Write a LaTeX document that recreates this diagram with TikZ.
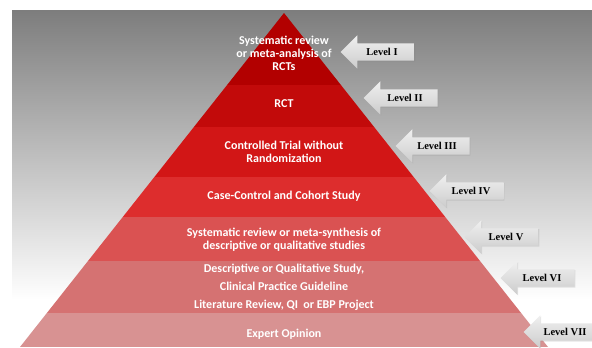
\documentclass[tikz,border=0pt]{standalone}
\usepackage{fontspec}
\setmainfont{Carlito}
\newfontfamily\levelfont{Liberation Serif}
\usetikzlibrary{shapes.arrows,shadows}
\definecolor{bgtop}{RGB}{125,125,125}
\definecolor{bandI}{RGB}{178,0,0}
\definecolor{bandII}{RGB}{194,10,10}
\definecolor{bandIII}{RGB}{210,22,22}
\definecolor{bandIV}{RGB}{221,45,45}
\definecolor{bandV}{RGB}{218,82,82}
\definecolor{bandVI}{RGB}{213,114,114}
\definecolor{bandVII}{RGB}{216,146,146}
\pgfdeclareverticalshading{backfade}{100bp}{color(0bp)=(white); color(32bp)=(white); color(75bp)=(bgtop); color(100bp)=(bgtop)}
\begin{document}
\begin{tikzpicture}[x=1bp,y=-1bp]
        \tikzstyle{band}=[text=white,font=\fontsize{12bp}{13bp}\selectfont\bfseries,align=center,inner sep=0pt]
        \tikzstyle{level}=[single arrow,shape border rotate=180,minimum height=74bp,text height=7bp,text depth=0bp,inner ysep=5bp,single arrow head extend=8bp,top color=gray!12,middle color=white!96!gray,bottom color=gray!40,drop shadow={opacity=0.2,shadow xshift=0.8bp,shadow yshift=-0.8bp},font=\levelfont\fontsize{10.5bp}{11bp}\selectfont\bfseries]
        \useasboundingbox (0,0) rectangle (592,347);
        \clip (0,0) rectangle (592,347);
        \shade[shading=backfade] (12,10) rectangle (592,347);
        % pyramid
        \begin{scope}
          \clip (284,13) -- (20,347) -- (548,347) -- cycle;
          \foreach \ya/\yb/\col in {13/85/bandI,85/127/bandII,127/177/bandIII,177/217/bandIV,217/261/bandV,261/313/bandVI,313/347/bandVII}
            \fill[\col] (0,\ya) rectangle (592,\yb);
        \end{scope}
        \node [band] (t1) at (284,53) {Systematic review\\or meta-analysis of\\RCTs};
        \node [band] (t2) at (284,104) {RCT};
        \node [band] (t3) at (284,151.5) {Controlled Trial without\\Randomization};
        \node [band] (t4) at (284,196) {Case-Control and Cohort Study};
        \node [band] (t5) at (284,239.5) {Systematic review or meta-synthesis of\\descriptive or qualitative studies};
        \node [band,font=\fontsize{12bp}{18bp}\selectfont\bfseries] (t6) at (284,287) {Descriptive or Qualitative Study,\\Clinical Practice Guideline\\Literature Review, QI~ or EBP Project};
        \node [band] (t7) at (284,334) {Expert Opinion};
        % level arrows
        \node [level] (l1) at (382,52) {Level I};
        \node [level] (l2) at (405,98) {Level II};
        \node [level] (l3) at (437,146) {Level III};
        \node [level] (l4) at (471,191) {Level IV};
        \node [level] (l5) at (506,237) {Level V};
        \node [level] (l6) at (542,278) {Level VI};
        \node [level] (l7) at (565,332) {Level VII};
\end{tikzpicture}
\end{document}
